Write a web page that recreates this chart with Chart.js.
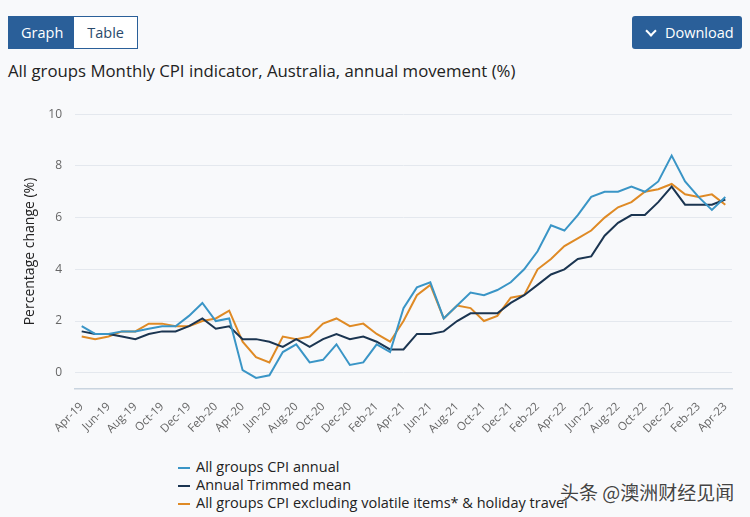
<!DOCTYPE html>
<html>
<head>
<meta charset="utf-8">
<script src="https://cdn.jsdelivr.net/npm/chart.js@4.4.0/dist/chart.umd.min.js"></script>
<style>
  html, body { margin: 0; padding: 0; }
  body {
    width: 750px; height: 517px; overflow: hidden; position: relative;
    background: #f8f9fb; font-family: "Open Sans", sans-serif; color: #222;
  }
  .toggle {
    position: absolute; left: 8px; top: 16px; height: 31px;
    border: 1.5px solid #2a5f99; display: flex; background: #fff;
  }
  .toggle span { display: block; line-height: 31px; font-size: 14.5px; }
  .toggle .on { background: #2a5f99; color: #fff; padding: 0 11px 0 12px; }
  .toggle .off { color: #2a4a6b; padding: 0 13px 0 13px; }
  .download {
    position: absolute; left: 632px; top: 16px; width: 110px; height: 33px;
    background: #2a5f99; color: #fff; border-radius: 3px; font-size: 14.5px;
    line-height: 33px; box-sizing: border-box; padding-left: 33px;
  }
  .download i {
    position: absolute; left: 15px; top: 11px; width: 6px; height: 6px;
    border-right: 2.5px solid #fff; border-bottom: 2.5px solid #fff; transform: rotate(45deg);
  }
  h1 {
    position: absolute; left: 8px; top: 59px; margin: 0;
    font-size: 16.8px; font-weight: normal; color: #222;
  }
  #wrap { position: absolute; left: 0; top: 94px; width: 750px; height: 345px; }
  #legend { position: absolute; left: 178px; top: 458px; font-size: 14.5px; color: #222; }
  #legend div { height: 18px; line-height: 18px; white-space: nowrap; }
  #legend b { display: inline-block; width: 12px; height: 2px; vertical-align: middle; margin-right: 6px; }
  .mark {
    position: absolute; left: 560px; top: 478px; font-size: 19px; color: #444;
    font-family: "Noto Sans CJK SC", sans-serif; text-shadow: 0 0 2px #fff, 0 0 2px #fff;
  }
</style>
</head>
<body>
<div class="toggle"><span class="on">Graph</span><span class="off">Table</span></div>
<div class="download"><i></i>Download</div>
<h1>All groups Monthly CPI indicator, Australia, annual movement (%)</h1>
<div id="wrap"><canvas id="myChart"></canvas></div>
<div id="legend"></div>
<div class="mark">头条 @澳洲财经见闻</div>
<script>
const months = [
  'Apr-19', 'May-19', 'Jun-19', 'Jul-19', 'Aug-19', 'Sep-19', 'Oct-19', 'Nov-19', 'Dec-19', 'Jan-20', 'Feb-20', 'Mar-20',
  'Apr-20', 'May-20', 'Jun-20', 'Jul-20', 'Aug-20', 'Sep-20', 'Oct-20', 'Nov-20', 'Dec-20', 'Jan-21', 'Feb-21', 'Mar-21',
  'Apr-21', 'May-21', 'Jun-21', 'Jul-21', 'Aug-21', 'Sep-21', 'Oct-21', 'Nov-21', 'Dec-21', 'Jan-22', 'Feb-22', 'Mar-22',
  'Apr-22', 'May-22', 'Jun-22', 'Jul-22', 'Aug-22', 'Sep-22', 'Oct-22', 'Nov-22', 'Dec-22', 'Jan-23', 'Feb-23', 'Mar-23',
  'Apr-23'
];

const cpiAnnual = [
  1.8, 1.5, 1.5, 1.6, 1.6, 1.7, 1.8, 1.8, 2.2, 2.7, 2.0, 2.1,
  0.1, -0.2, -0.1, 0.8, 1.1, 0.4, 0.5, 1.1, 0.3, 0.4, 1.1, 0.8,
  2.5, 3.3, 3.5, 2.1, 2.6, 3.1, 3.0, 3.2, 3.5, 4.0, 4.7, 5.7,
  5.5, 6.1, 6.8, 7.0, 7.0, 7.2, 7.0, 7.4, 8.4, 7.4, 6.8, 6.3, 6.8
];

const trimmedMean = [
  1.6, 1.5, 1.5, 1.4, 1.3, 1.5, 1.6, 1.6, 1.8, 2.1, 1.7, 1.8,
  1.3, 1.3, 1.2, 1.0, 1.3, 1.0, 1.3, 1.5, 1.3, 1.4, 1.2, 0.9,
  0.9, 1.5, 1.5, 1.6, 2.0, 2.3, 2.3, 2.3, 2.7, 3.0, 3.4, 3.8,
  4.0, 4.4, 4.5, 5.3, 5.8, 6.1, 6.1, 6.6, 7.2, 6.5, 6.5, 6.5, 6.7
];

const exVolatile = [
  1.4, 1.3, 1.4, 1.6, 1.6, 1.9, 1.9, 1.8, 1.8, 2.0, 2.1, 2.4,
  1.2, 0.6, 0.4, 1.4, 1.3, 1.4, 1.9, 2.1, 1.8, 1.9, 1.5, 1.2,
  2.0, 3.0, 3.4, 2.1, 2.6, 2.5, 2.0, 2.2, 2.9, 3.0, 4.0, 4.4,
  4.9, 5.2, 5.5, 6.0, 6.4, 6.6, 7.0, 7.1, 7.3, 6.9, 6.8, 6.9, 6.5
];

const yTicks = [0, 2, 4, 6, 8, 10];

function line(label, data, color) {
  return { label, data, borderColor: color, backgroundColor: color, borderWidth: 2, pointRadius: 0, tension: 0 };
}

const ctx = document.querySelector('#myChart');
const myChart = new Chart(ctx, {
  type: 'line',
  data: {
    labels: months,
    datasets: [
      line('All groups CPI annual', cpiAnnual, '#3a95c6'),
      line('Annual Trimmed mean', trimmedMean, '#1b3551'),
      line('All groups CPI excluding volatile items* & holiday travel', exVolatile, '#df8a25')
    ]
  },
  options: {
    responsive: true,
    maintainAspectRatio: false,
    animation: false,
    layout: { padding: { left: 4, right: 18, top: 8, bottom: 0 } },
    plugins: { legend: { display: false }, tooltip: { enabled: false } },
    scales: {
      x: {
        offset: true,
        grid: { display: false },
        border: { display: true, color: '#c9d4df', width: 1.5 },
        ticks: {
          autoSkip: false, minRotation: 45, maxRotation: 45,
          color: '#666', font: { family: 'Open Sans', size: 11.5 },
          callback: (v, i) => (i % 2 === 0 ? months[i] : '')
        }
      },
      y: {
        min: -0.62,
        max: 10,
        afterBuildTicks: (axis) => { axis.ticks = yTicks.map(v => ({ value: v })); },
        afterFit: (axis) => { axis.width = 71; },
        grid: { color: '#e4e8ee', drawTicks: false },
        border: { display: false },
        ticks: { color: '#666', padding: 13, font: { family: 'Open Sans', size: 12 } },
        title: {
          display: true, text: 'Percentage change (%)', color: '#222',
          font: { family: 'Open Sans', size: 14 }, padding: { top: 18, bottom: 8 }
        }
      }
    }
  }
});

document.querySelector('#legend').innerHTML = myChart.data.datasets
  .map(d => '<div><b style="background:' + d.borderColor + '"></b>' + d.label + '</div>')
  .join('');
</script>
</body>
</html>
